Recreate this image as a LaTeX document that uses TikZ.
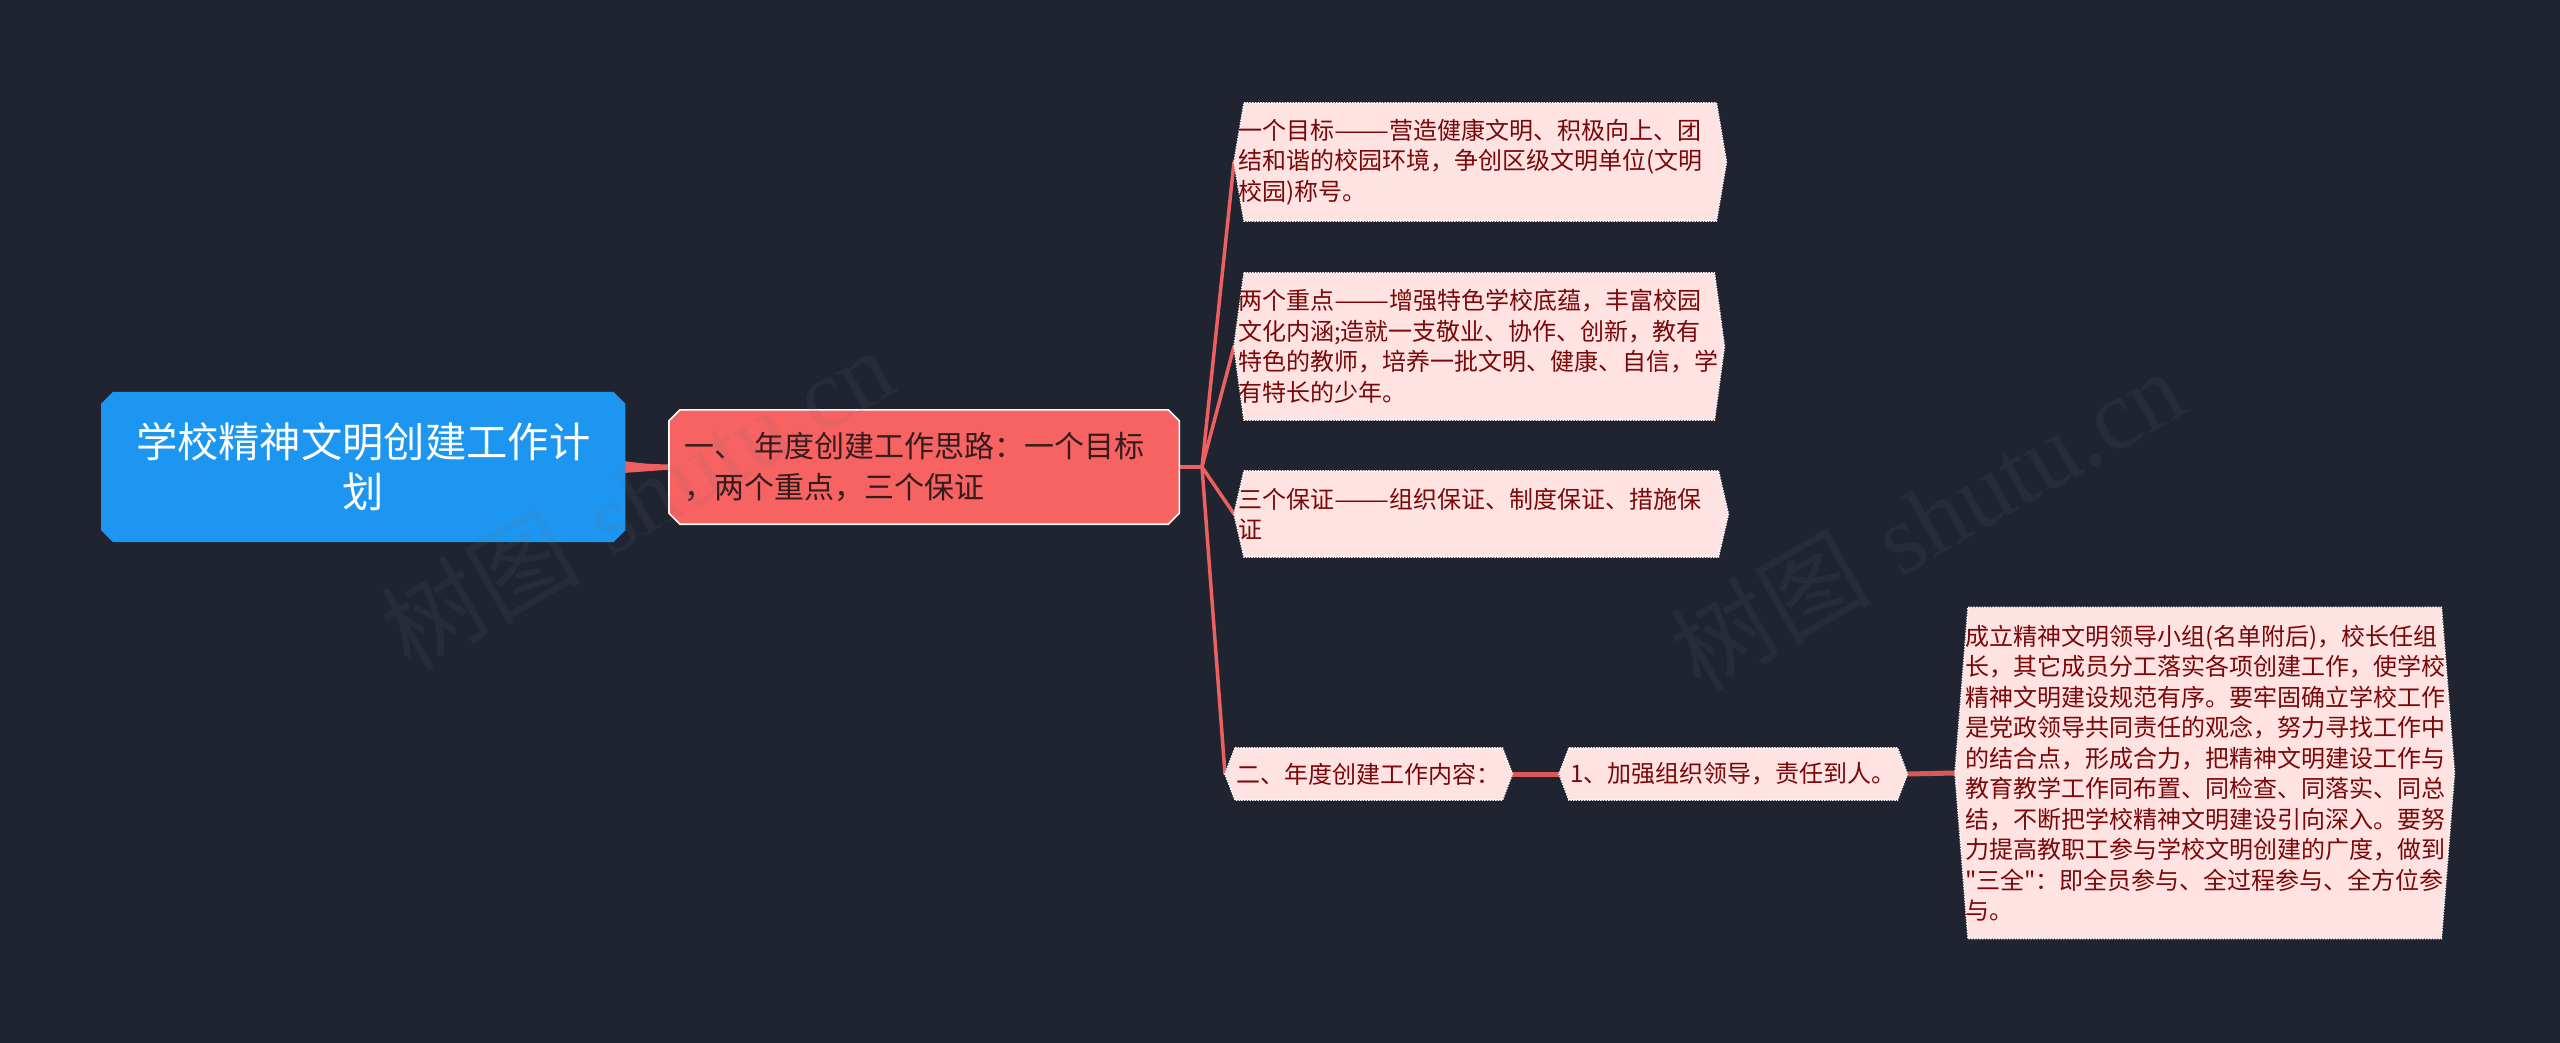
\documentclass[tikz,border=0pt]{standalone}
\usepackage{fontspec}
\usepackage{graphicx}
\newfontfamily\cjk{Noto Sans CJK SC}
\newfontfamily\wmserif{Liberation Serif}
\usetikzlibrary{calc}
\pgfdeclarelayer{background}
\pgfsetlayers{background,main}
\definecolor{bgc}{RGB}{32,36,48}
\definecolor{rootc}{RGB}{28,150,240}
\definecolor{lvlc}{RGB}{247,98,98}
\definecolor{leafc}{RGB}{255,226,226}
\definecolor{leaftxt}{RGB}{122,8,8}
\definecolor{lvltxt}{RGB}{52,28,28}
\definecolor{linkc}{RGB}{236,96,96}
\definecolor{wmc}{RGB}{110,112,124}
\newcommand{\chamfpath}[2]{([xshift=#2]#1.north west) -- ([xshift=-#2]#1.north east) -- ([yshift=-#2]#1.north east) -- ([yshift=#2]#1.south east) -- ([xshift=-#2]#1.south east) -- ([xshift=#2]#1.south west) -- ([yshift=#2]#1.south west) -- ([yshift=-#2]#1.north west) -- cycle}
\newcommand{\hexpath}[2]{([xshift=#2]#1.north west) -- ([xshift=-#2]#1.north east) -- (#1.east) -- ([xshift=-#2]#1.south east) -- ([xshift=#2]#1.south west) -- (#1.west) -- cycle}
\newcommand{\ddash}{\scalebox{1.37}[1]{——}}
\begin{document}
\begin{tikzpicture}[x=1pt,y=-1pt,
  rootbox/.style={anchor=west, text=white, font=\cjk\fontsize{41.3}{50}\selectfont, align=center, inner xsep=0pt, inner ysep=0pt},
  lvlbox/.style={anchor=west, text=lvltxt, font=\cjk\fontsize{30}{41}\selectfont, align=left, inner ysep=0pt},
  leafbox/.style={anchor=west, text=leaftxt, font=\cjk\fontsize{24}{30.5}\selectfont, align=left, inner ysep=0pt},
  leafshape/.style={fill=leafc, draw=white, line width=1.5pt, dash pattern=on 1.5pt off 1.2pt},
  link/.style={draw=linkc, line width=3.5pt},
  thicklink/.style={draw=linkc!92!black, line width=5pt},
  wm/.style={text=wmc, text opacity=0.11, rotate=30, font=\fontsize{100}{110}\selectfont}
]
\begin{pgfonlayer}{background}
\fill[bgc] (0,0) rectangle (2560,1043);
\end{pgfonlayer}
\useasboundingbox (0,0) rectangle (2560,1043);

% nodes (text)
\node[rootbox, text width=524pt, minimum height=150pt] (root) at (101,467) {学校精神文明创建工作计\\划};
\node[lvlbox, inner xsep=15pt, text width=480pt, minimum height=114pt] (n1) at (669,467) {一、 年度创建工作思路：一个目标\\，两个重点，三个保证};
\node[leafbox, inner xsep=4pt, text width=484pt, minimum height=118pt] (c1) at (1234,162) {一个目标\ddash 营造健康文明、积极向上、团\\结和谐的校园环境，争创区级文明单位(文明\\校园)称号。};
\node[leafbox, inner xsep=4pt, text width=482pt, minimum height=147pt] (c2) at (1234,346.5) {两个重点\ddash 增强特色学校底蕴，丰富校园\\文化内涵;造就一支敬业、协作、创新，教有\\特色的教师，培养一批文明、健康、自信，学\\有特长的少年。};
\node[leafbox, inner xsep=4pt, text width=486pt, minimum height=86pt] (c3) at (1234,514) {三个保证\ddash 组织保证、制度保证、措施保\\证};
\node[leafbox, inner xsep=11pt, text width=265pt, minimum height=52pt] (c4) at (1225,774) {二、年度创建工作内容：};
\node[leafbox, inner xsep=11pt, text width=326pt, minimum height=52pt] (c5) at (1559,774) {1、加强组织领导，责任到人。};
\node[leafbox, inner xsep=10pt, text width=479pt, minimum height=331pt] (c6) at (1955,773) {成立精神文明领导小组(名单附后)，校长任组\\长，其它成员分工落实各项创建工作，使学校\\精神文明建设规范有序。要牢固确立学校工作\\是党政领导共同责任的观念，努力寻找工作中\\的结合点，形成合力，把精神文明建设工作与\\教育教学工作同布置、同检查、同落实、同总\\结，不断把学校精神文明建设引向深入。要努\\力提高教职工参与学校文明创建的广度，做到\\"三全"：即全员参与、全过程参与、全方位参\\与。};
\coordinate (sp) at (1202,467);

\begin{pgfonlayer}{background}
% connectors
\fill[linkc] ($(root.east)+(-2,-6)$) .. controls ($(root.east)+(22,-3)$) .. ($(n1.west)+(2,-2.5)$) -- ($(n1.west)+(2,2.5)$) .. controls ($(root.east)+(22,4)$) .. ($(root.east)+(-2,6)$) -- cycle;
\draw[link] (n1.east) -- (sp);
\draw[link, line cap=round] (sp) -- (c1.west);
\draw[link, line cap=round] (sp) -- (c2.west);
\draw[link, line cap=round] (sp) -- (c3.west);
\draw[link, line cap=round] (sp) -- (c4.west);
\draw[thicklink] (c4.east) -- (c5.west);
\draw[thicklink] (c5.east) -- (c6.west);
% shapes
\fill[rootc] \chamfpath{root}{12pt};
\path[fill=lvlc, draw=white, line width=1.6pt] \chamfpath{n1}{11pt};
\path[leafshape] \hexpath{c1}{10pt};
\path[leafshape] \hexpath{c2}{10pt};
\path[leafshape] \hexpath{c3}{10pt};
\path[leafshape] \hexpath{c4}{10pt};
\path[leafshape] \hexpath{c5}{10pt};
\path[leafshape] \hexpath{c6}{13pt};
\end{pgfonlayer}

% watermarks
\node[wm] (wm1) at (637,498) {{\cjk 树图} {\wmserif shutu.cn}};
\node[wm] (wm2) at (1927,519) {{\cjk 树图} {\wmserif shutu.cn}};
\end{tikzpicture}
\end{document}
